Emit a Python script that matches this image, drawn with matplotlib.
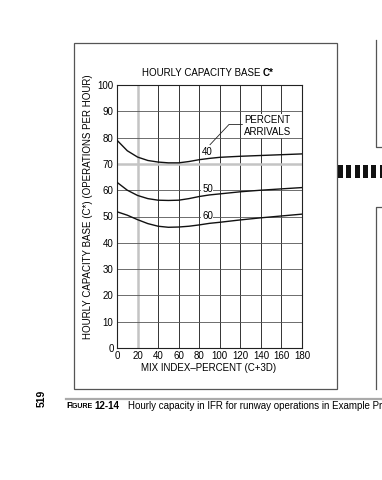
"""Hourly capacity base C* chart (book page scan recreation)."""
import numpy as np
import matplotlib
matplotlib.use("Agg")
import matplotlib.pyplot as plt
from matplotlib.patches import Rectangle
from matplotlib.lines import Line2D

plt.rcParams["font.family"] = ["Liberation Sans", "DejaVu Sans"]

# -------------------------------------------------------
# Data.
# -------------------------------------------------------
mix_index = [0, 10, 20, 30, 40, 50, 60, 70, 80, 90, 100, 120, 140, 160, 180]
arrivals_40 = [79.0, 75.0, 72.6, 71.3, 70.7, 70.4, 70.4, 70.9, 71.6, 72.1, 72.5, 72.9, 73.2, 73.5, 73.8]
arrivals_50 = [63.0, 60.0, 58.0, 56.8, 56.2, 56.1, 56.2, 56.8, 57.6, 58.2, 58.6, 59.4, 60.0, 60.5, 61.0]
arrivals_60 = [51.8, 50.5, 48.8, 47.3, 46.3, 45.9, 46.0, 46.3, 46.8, 47.4, 47.8, 48.7, 49.5, 50.2, 50.9]
curve_labels = ["40", "50", "60"]
x_ticks = list(range(0, 181, 20))
y_ticks = list(range(0, 101, 10))

W, H = 382, 480
FS = 7


def fx(px):
    return px / W


def fy(py):
    return 1 - py / H


fig = plt.figure(figsize=(W / 100, H / 100), dpi=100)
fig.patch.set_facecolor("white")

# page furniture: outer box, neighbouring boxes, dashed bar, rule
fig.add_artist(Rectangle((fx(74), fy(389)), fx(337) - fx(74), fy(43) - fy(389),
                         transform=fig.transFigure, fill=False, ec="#555555", lw=0.9))
fig.add_artist(Line2D([fx(376), fx(376), fx(383)], [fy(40), fy(147), fy(147)],
                      transform=fig.transFigure, color="#555555", lw=0.9))
fig.add_artist(Line2D([fx(383), fx(376), fx(376)], [fy(207), fy(207), fy(389)],
                      transform=fig.transFigure, color="#555555", lw=0.9))
for i in range(6):
    x0 = 338 + i * 8.3
    fig.add_artist(Rectangle((fx(x0), fy(178)), fx(5), fy(165) - fy(178),
                             transform=fig.transFigure, color="#111111", lw=0))
fig.add_artist(Line2D([fx(66), fx(383)], [fy(399), fy(399)],
                      transform=fig.transFigure, color="#aaaaaa", lw=1.6))

# main axes
ax = fig.add_axes([fx(117), fy(348), fx(302) - fx(117), fy(85) - fy(348)])
ax.set_xlim(0, 180)
ax.set_ylim(0, 100)
ax.set_xticks(x_ticks)
ax.set_yticks(y_ticks)
ax.tick_params(length=0, labelsize=FS, pad=2.5)
for s in ax.spines.values():
    s.set_linewidth(0.8)
    s.set_color("#222222")

for x in x_ticks[1:-1]:
    if x == 20:
        ax.axvline(x, color="#c4c4c4", lw=1.8, zorder=1)
    else:
        ax.axvline(x, color="#333333", lw=0.7, zorder=1)
for y in y_ticks[1:-1]:
    if y == 70:
        ax.axhline(y, color="#c4c4c4", lw=1.8, zorder=1)
    else:
        ax.axhline(y, color="#555555", lw=0.6, zorder=1)

for series in [arrivals_40, arrivals_50, arrivals_60]:
    ax.plot(mix_index, series, color="#111111", lw=1.0, zorder=3)

# curve labels sit under the curves but over the grid
label_pos = [(88, 74.6), (88, 60.3), (88, 50.3)]
for txt, (lx, ly) in zip(curve_labels, label_pos):
    ax.text(lx, ly, txt, fontsize=FS, ha="center", va="center", zorder=2.5,
            bbox=dict(facecolor="white", edgecolor="none", pad=0.4))

ax.text(124, 88.5, "PERCENT\nARRIVALS", fontsize=FS, ha="left", va="top",
        linespacing=1.2, zorder=4,
        bbox=dict(facecolor="white", edgecolor="none", pad=1.0))
ax.plot([90.5, 109, 122], [77.3, 85.0, 85.0], color="#222222", lw=0.6, zorder=4)

# titles and axis labels
fig.text(fx(263), fy(73), "HOURLY CAPACITY BASE ", fontsize=FS, ha="right", va="center")
fig.text(fx(263), fy(73), "C*", fontsize=FS, fontweight="bold", ha="left", va="center")
fig.text(fx(88), fy(207), "HOURLY CAPACITY BASE (C*) (OPERATIONS PER HOUR)",
         fontsize=FS, rotation=90, ha="center", va="center")
fig.text(fx(209), fy(368), "MIX INDEX\u2013PERCENT (C+3D)", fontsize=FS,
         ha="center", va="center")

# caption and page number
fig.text(fx(42), fy(398), "519", fontsize=7.5, fontweight="bold", rotation=90,
         ha="center", va="center")
fig.text(fx(66), fy(406), "F", fontsize=6.5, fontweight="bold", ha="left", va="center")
fig.text(fx(70.5), fy(406.5), "IGURE", fontsize=5, fontweight="bold", ha="left", va="center")
fig.text(fx(94), fy(406), "12-14", fontsize=7, fontweight="bold", ha="left", va="center")
fig.text(fx(128), fy(406), "Hourly capacity in IFR for runway operations in Example Pr",
         fontsize=7, ha="left", va="center")

fig.savefig("out.png", dpi=100)
